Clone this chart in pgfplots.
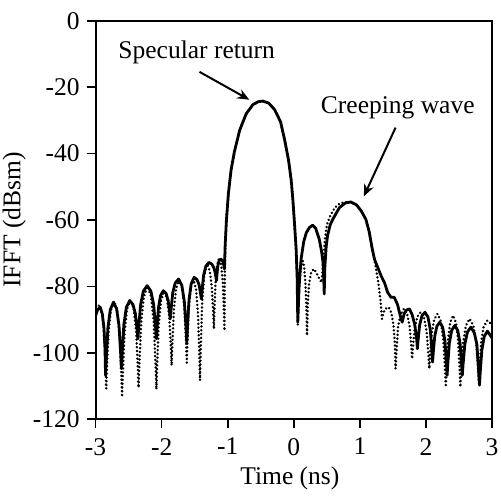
\documentclass[border=0pt]{standalone}
\usepackage{fontspec}
\setmainfont{Liberation Serif}
\usepackage{pgfplots}
\pgfplotsset{compat=1.18}
\usetikzlibrary{arrows.meta}
\newcommand\fs{\fontsize{12.8}{15}\selectfont}
\begin{document}
\begin{tikzpicture}
\begin{axis}[
  scale only axis, width=199pt, height=200pt,
  xmin=-3, xmax=3, ymin=-120, ymax=0,
  xtick={-3,-2,-1,0,1,2,3}, ytick={-120,-100,-80,-60,-40,-20,0},
  xtick pos=bottom, ytick pos=left,
  tick align=outside, major tick length=4.5pt,
  every tick/.style={black, line width=0.8pt},
  axis line style={line width=0.9pt},
  /pgf/number format/assume math mode=true,
  tick label style={font=\fs},
  xticklabel style={yshift=-1.5pt},
  label style={font=\fs},
  xlabel={Time (ns)}, ylabel={IFFT (dBsm)},
  xlabel style={at={(axis description cs:0.49,0)}, anchor=center, yshift=-29.5pt},
  ylabel style={at={(axis description cs:-0.205,0.5)}, anchor=center},
]
\addplot[black, line width=1.35pt, line cap=round, dash pattern=on 0.01pt off 1.9pt] coordinates {
(-3.0,-86.5) (-2.95,-85.8) (-2.91,-87.5) (-2.88,-92) (-2.86,-99) (-2.848,-104.5) (-2.84,-110.8)
(-2.828,-104.2) (-2.804,-93.7) (-2.768,-87.1) (-2.72,-84.5) (-2.672,-87.4) (-2.636,-94.6) (-2.612,-106.1) (-2.60,-113.3)
(-2.5875,-106.0) (-2.5625,-94.25) (-2.525,-86.9) (-2.475,-84) (-2.425,-86.65) (-2.3875,-93.3) (-2.3625,-103.9) (-2.35,-110.5)
(-2.3365,-102.9) (-2.3095,-90.7) (-2.269,-83.05) (-2.215,-80) (-2.161,-83.1) (-2.1205,-90.85) (-2.0935,-103.25) (-2.08,-111)
(-2.0685,-103.6) (-2.0455,-91.8) (-2.011,-84.45) (-1.965,-81.5) (-1.919,-83.7) (-1.8845,-89.3) (-1.8615,-98.2) (-1.85,-103.8)
(-1.8385,-97.35) (-1.8155,-87.0) (-1.781,-80.6) (-1.735,-78) (-1.689,-80.5) (-1.6545,-86.75) (-1.6315,-96.75) (-1.62,-103)
(-1.61,-96.7) (-1.59,-86.6) (-1.56,-80.3) (-1.52,-77.8) (-1.48,-80.85) (-1.45,-88.5) (-1.43,-100.7) (-1.42,-108.3)
(-1.4095,-99.55) (-1.3885,-85.55) (-1.357,-76.8) (-1.315,-73.3) (-1.273,-75.25) (-1.2415,-80.1) (-1.2205,-87.9) (-1.21,-92.8)
(-1.202,-87.5) (-1.186,-79.0) (-1.162,-73.6) (-1.13,-71.5) (-1.098,-73.7) (-1.074,-79.1) (-1.058,-87.85) (-1.05,-93.3)
(-1.045,-78) (-1.035,-66) (-1.02,-60) (-0.99,-52) (-0.95,-45) (-0.90,-39.5) (-0.82,-33) (-0.72,-28) (-0.62,-25.3) (-0.54,-24.4) (-0.47,-24.2) (-0.38,-24.8) (-0.29,-26.8) (-0.2,-30.5) (-0.14,-35.8) (-0.08,-42) (-0.04,-48) (-0.015,-53.8) (0.01,-61) (0.035,-68.8) (0.05,-78) (0.06,-91.5)
(0.075,-82) (0.095,-76) (0.12,-72.8) (0.135,-72.3) (0.155,-74) (0.175,-79) (0.19,-86) (0.2,-94.8) (0.21,-86) (0.23,-79.5) (0.26,-76) (0.30,-74.8) (0.34,-75.8) (0.38,-77.5) (0.42,-78.8) (0.44,-74) (0.47,-66) (0.50,-61.5) (0.55,-58.8) (0.62,-56.3) (0.70,-55) (0.78,-54.6) (0.86,-54.6) (0.95,-55.5) (1.02,-57.3) (1.09,-59.8) (1.14,-63.5) (1.18,-68) (1.22,-71.8) (1.25,-75.5) (1.28,-79) (1.31,-84) (1.335,-89.8)
(1.345,-88.9) (1.366,-87.5) (1.397,-86.65) (1.4375,-86.3) (1.4785,-88.15) (1.509,-91.85) (1.53,-97.4) (1.54,-104.8)
(1.5525,-100.3) (1.5775,-92.2) (1.615,-88.6) (1.665,-86.8) (1.715,-88.3) (1.7525,-92.05) (1.7775,-98.05) (1.79,-101.8)
(1.803,-98.3) (1.829,-92.7) (1.868,-89.2) (1.92,-87.8) (1.972,-89.5) (2.011,-93.75) (2.037,-100.55) (2.05,-104.8)
(2.0625,-100.7) (2.0875,-94.1) (2.125,-89.95) (2.175,-88.3) (2.225,-90.5) (2.2625,-96.0) (2.2875,-104.8) (2.30,-110.3)
(2.311,-104.9) (2.333,-96.3) (2.366,-90.95) (2.41,-88.8) (2.454,-90.95) (2.487,-96.3) (2.509,-104.9) (2.52,-110.3)
(2.534,-105.2) (2.562,-97.0) (2.604,-91.85) (2.66,-89.8) (2.716,-91.7) (2.758,-96.45) (2.786,-104.05) (2.80,-108.8)
(2.812,-104.2) (2.836,-96.8) (2.872,-92.2) (2.93,-90.3) (3.0,-91.5)
};
\addplot[black, line width=1.4pt, line join=round] coordinates {
(-3.00,-88.8) (-2.97,-87.0) (-2.93,-86.3) (-2.898,-88.4) (-2.874,-92.5) (-2.858,-98.6) (-2.85,-106.8)
(-2.838,-101.3) (-2.814,-92.5) (-2.778,-87.0) (-2.73,-84.8) (-2.682,-86.8) (-2.646,-91.8) (-2.622,-99.8) (-2.61,-104.8)
(-2.5975,-99.7) (-2.5725,-91.5) (-2.535,-86.35) (-2.485,-84.3) (-2.435,-85.45) (-2.3975,-88.3) (-2.3725,-92.9) (-2.36,-95.8)
(-2.346,-91.8) (-2.318,-85.4) (-2.276,-81.4) (-2.22,-79.8) (-2.164,-81.4) (-2.122,-85.4) (-2.094,-91.8) (-2.08,-95.8)
(-2.0695,-92.2) (-2.0485,-86.4) (-2.017,-82.75) (-1.975,-81.3) (-1.933,-82.15) (-1.9015,-84.3) (-1.8805,-87.7) (-1.87,-89.8)
(-1.8575,-86.8) (-1.8325,-82.0) (-1.795,-79.0) (-1.745,-77.8) (-1.695,-79.7) (-1.6575,-84.5) (-1.6325,-92.2) (-1.62,-97.0)
(-1.609,-92.1) (-1.587,-84.2) (-1.554,-79.3) (-1.51,-77.3) (-1.466,-77.95) (-1.433,-79.6) (-1.411,-82.2) (-1.40,-83.8)
(-1.3885,-81.05) (-1.3655,-76.65) (-1.331,-73.9) (-1.285,-72.8) (-1.239,-73.35) (-1.2045,-74.7) (-1.1815,-76.9) (-1.17,-78.3)
(-1.164,-76.7) (-1.152,-74.1) (-1.134,-72.45) (-1.11,-71.8) (-1.086,-72.1) (-1.068,-72.85) (-1.056,-74.05) (-1.05,-74.8)
(-1.04,-68) (-1.02,-60) (-0.99,-52) (-0.95,-45) (-0.90,-39.5) (-0.82,-33) (-0.72,-28) (-0.62,-25.3) (-0.54,-24.4) (-0.47,-24.2) (-0.38,-24.8) (-0.29,-26.8) (-0.2,-30.5) (-0.14,-35.8) (-0.08,-42) (-0.04,-48) (-0.015,-53.8) (0.01,-61) (0.035,-68.8) (0.05,-77) (0.06,-90.8)
(0.08,-80) (0.11,-71.8) (0.15,-66.5) (0.19,-63.8) (0.24,-62.2) (0.285,-61.6) (0.33,-62.5) (0.385,-65.8) (0.42,-69.5) (0.44,-72.5) (0.45,-76) (0.46,-82.3)
(0.47,-74) (0.49,-68) (0.51,-64.8) (0.55,-61.5) (0.59,-59.8) (0.69,-56.3) (0.78,-54.9) (0.86,-54.6) (0.95,-55.5) (1.02,-57.3) (1.09,-59.8) (1.14,-63.5) (1.18,-68) (1.22,-71.8) (1.27,-74.3) (1.32,-76.8) (1.37,-78.8) (1.42,-81.8) (1.47,-83.3) (1.52,-83.3) (1.57,-85.5) (1.61,-88.8) (1.64,-90.8) (1.67,-88.3) (1.70,-87.2) (1.75,-86.8) (1.79,-88.5) (1.83,-91.5) (1.86,-96) (1.87,-98.8)
(1.8815,-96.05) (1.9045,-91.65) (1.939,-88.9) (1.985,-87.8) (2.031,-89.3) (2.0655,-93.05) (2.0885,-99.05) (2.10,-102.8)
(2.111,-99.8) (2.133,-95.0) (2.166,-92.0) (2.21,-90.8) (2.254,-92.4) (2.287,-96.4) (2.309,-102.8) (2.32,-106.8)
(2.3315,-103.05) (2.3545,-97.05) (2.389,-93.3) (2.435,-91.8) (2.481,-93.3) (2.5155,-97.05) (2.5385,-103.05) (2.55,-106.8)
(2.563,-103.2) (2.589,-97.4) (2.628,-93.75) (2.68,-92.3) (2.732,-94.05) (2.771,-97.55) (2.797,-105.4) (2.81,-109.8)
(2.822,-105.7) (2.846,-99.2) (2.882,-95.1) (2.93,-93.5) (3.0,-95.5)
};
\node[font=\fs] at (axis cs:-1.47,-9.4) {Specular return};
\node[font=\fs] at (axis cs:1.573,-26.2) {Creeping wave};
\draw[line width=1pt, -{Stealth[length=6pt,width=5pt]}] (axis cs:-1.428,-15.4) -- (axis cs:-0.674,-23.8);
\draw[line width=1pt, -{Stealth[length=6pt,width=5pt]}] (axis cs:1.54,-32.2) -- (axis cs:1.06,-52.9);
\end{axis}
\pgfresetboundingbox
\path[use as bounding box] ([xshift=-48pt,yshift=-38.5pt]current axis.south west) rectangle ([xshift=4.5pt,yshift=10.4pt]current axis.north east);
\end{tikzpicture}
\end{document}
